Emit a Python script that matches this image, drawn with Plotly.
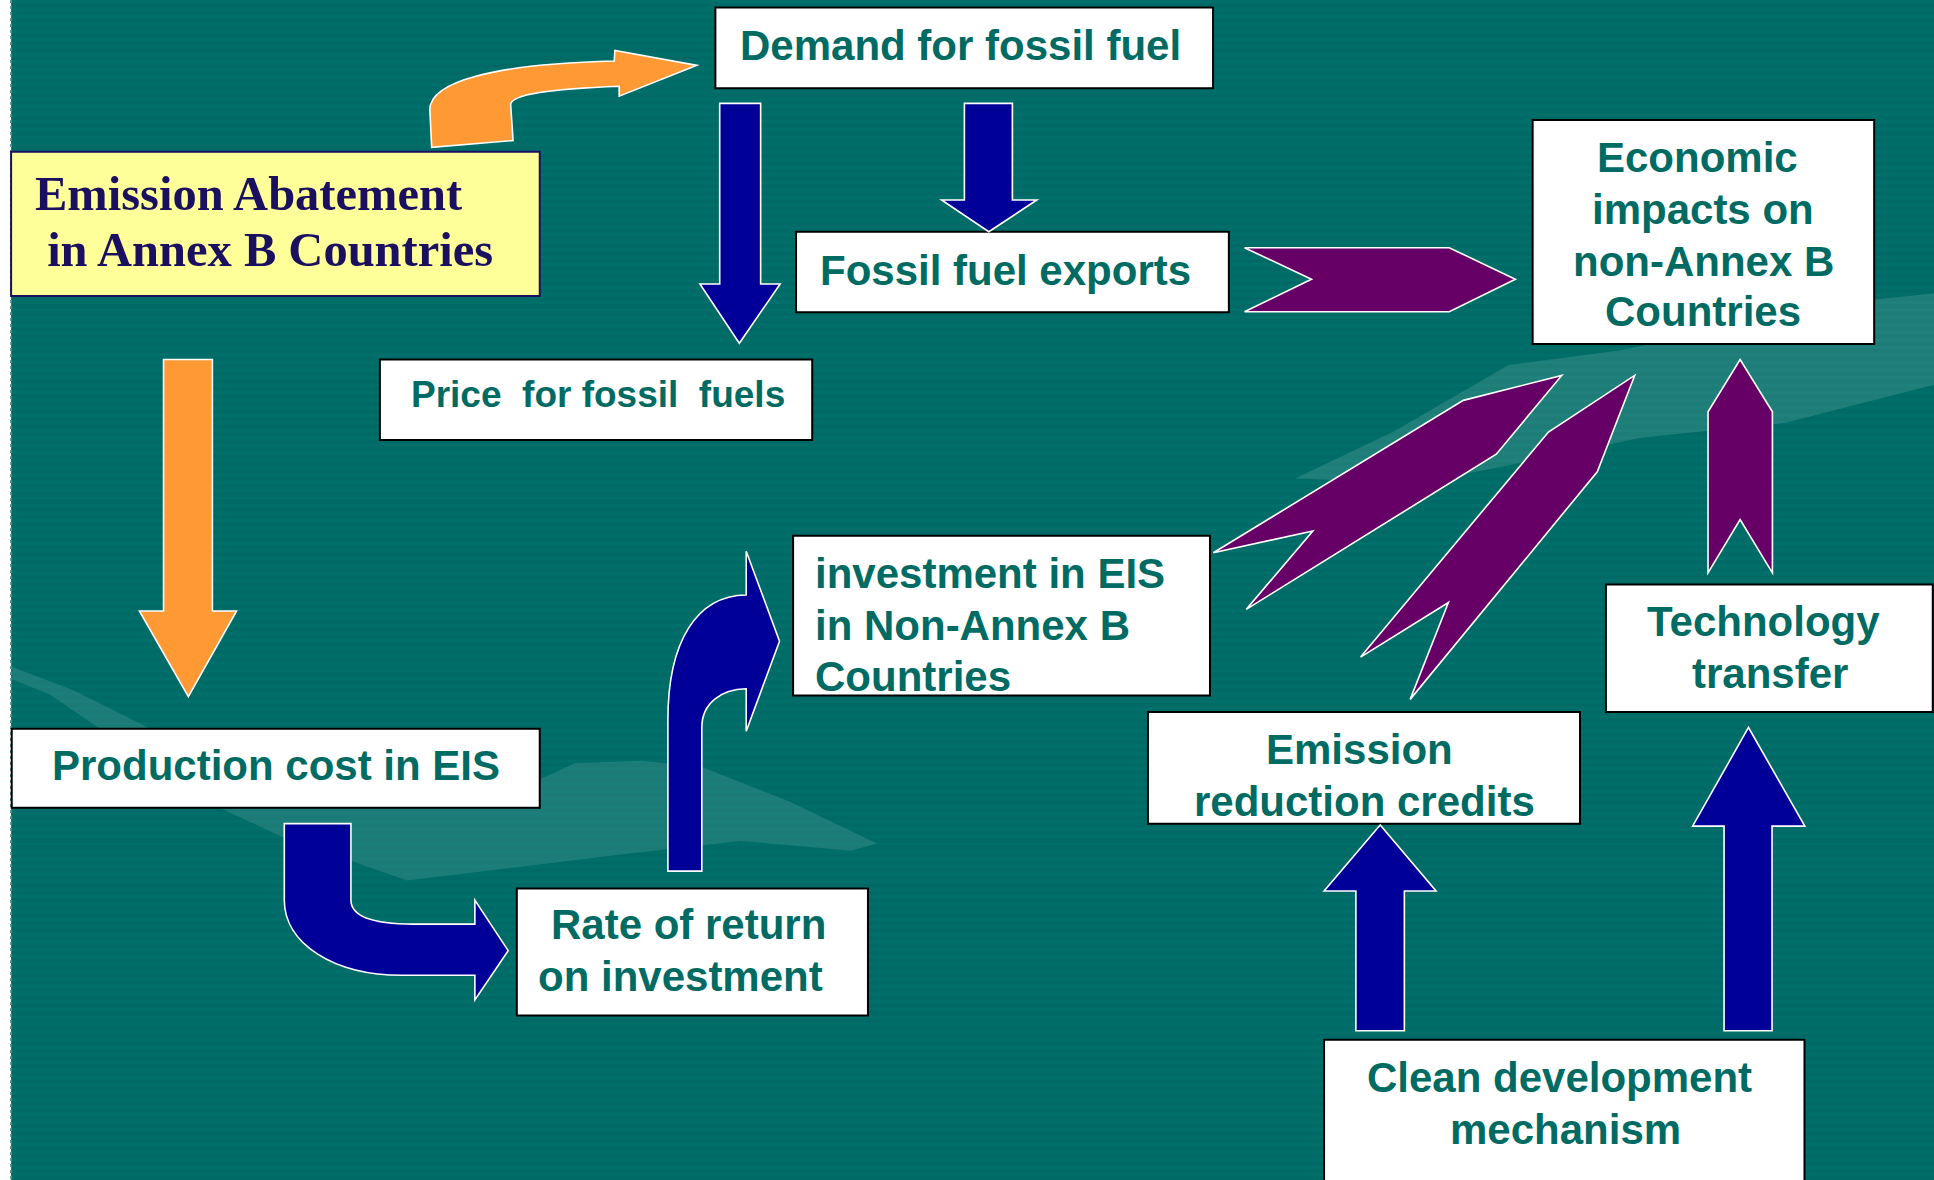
import plotly.graph_objects as go

# ---------------- data: node labels (one list entry per text line) ----------------
demand_lines = ["Demand for fossil fuel"]
abatement_lines = ["Emission Abatement", " in Annex B Countries"]
exports_lines = ["Fossil fuel exports"]
price_lines = ["Price  for fossil  fuels"]
impacts_lines = ["Economic", "impacts on", "non-Annex B", "Countries"]
investment_lines = ["investment in EIS", "in Non-Annex B", "Countries"]
production_lines = ["Production cost in EIS"]
return_lines = ["Rate of return", "on investment"]
credits_lines = ["Emission", "reduction credits"]
technology_lines = ["Technology", "transfer"]
cdm_lines = ["Clean development", "mechanism"]

# ---------------- styles ----------------
W, H = 1934, 1180
XR, YR = 1568, 957          # working coordinate frame
BG = "#006B66"
STRIPE = "#00736E"
TEAL_TEXT = "#006B63"
NAVY_TEXT = "#1B1060"
ORANGE = "#FF9933"
BLUE = "#000099"
PURPLE = "#660066"
SANS = "Liberation Sans, Arial, sans-serif"
SERIF = "Liberation Serif, Times New Roman, serif"

shapes = []
annotations = []


def rect(x0, y0, x1, y1, fill, line="black", lw=2, layer="below"):
    shapes.append(dict(type="rect", xref="x", yref="y", x0=x0, y0=y0, x1=x1, y1=y1,
                       fillcolor=fill, line=dict(color=line, width=lw), layer=layer))


def path(d, fill, line="white", lw=1.6, opacity=1.0, layer="above"):
    shapes.append(dict(type="path", xref="x", yref="y", path=d, fillcolor=fill,
                       line=dict(color=line, width=lw), opacity=opacity, layer=layer))


def poly(pts):
    return "M " + " L ".join(f"{x},{y}" for x, y in pts) + " Z"


def txt(s):
    s = s.replace("  ", " \u00a0")
    if s.startswith(" "):
        s = "\u00a0" + s[1:]
    return s


def label(lines, xs, ys, size=42, color=TEAL_TEXT, family=SANS, anchor="center"):
    if not isinstance(xs, (list, tuple)):
        xs = [xs] * len(lines)
    for s, x, y in zip(lines, xs, ys):
        annotations.append(dict(x=x, y=y, xref="x", yref="y", text=f"<b>{txt(s)}</b>",
                                showarrow=False, xanchor=anchor, yanchor="middle",
                                font=dict(size=size, color=color, family=family)))


# ---------------- background ----------------
rect(9, 0, XR, YR, BG, line=BG, lw=0)
y = 0.0
while y < YR:
    shapes.append(dict(type="rect", xref="x", yref="y", x0=9, x1=XR, y0=y, y1=y + 2.6,
                       fillcolor=STRIPE, line=dict(width=0), layer="below", opacity=0.55))
    y += 6.1
shapes.append(dict(type="line", xref="x", yref="y", x0=9, x1=9, y0=0, y1=YR,
                   line=dict(color="#4a8f8a", width=2, dash="dot"), layer="below"))

# light swooshes in the background
path(poly([(10, 541), (60, 560), (120, 590), (180, 625), (300, 648), (438, 632), (466, 619),
           (520, 617), (569, 622), (640, 650), (711, 684), (690, 690), (600, 682), (512, 692),
           (330, 714), (227, 678), (182, 657), (100, 604), (40, 563), (10, 551)]),
     "white", line="rgba(0,0,0,0)", lw=0, opacity=0.11, layer="below")
path(poly([(1050, 388), (1130, 350), (1223, 296), (1314, 284), (1420, 262), (1519, 243),
           (1568, 238), (1568, 312), (1447, 343), (1330, 355), (1250, 372), (1150, 392)]),
     "white", line="rgba(0,0,0,0)", lw=0, opacity=0.12, layer="below")

# ---------------- boxes ----------------
rect(580, 6, 983.5, 71.6, "white")                       # demand
rect(9, 123, 437.6, 240, "#FFFF99", line=NAVY_TEXT)       # abatement
rect(645.4, 188, 996.3, 253.3, "white")                  # exports
rect(308, 291.6, 658.5, 356.9, "white")                  # price
rect(1242.6, 97.3, 1519.5, 279, "white")                 # impacts
rect(643, 434.5, 981, 564, "white")                      # investment
rect(9.5, 591, 437.6, 655, "white")                      # production
rect(419, 720.5, 703.7, 823.5, "white")                  # return
rect(930.7, 577.5, 1281, 668, "white")                   # credits
rect(1302, 474, 1567, 577.5, "white")                    # technology
rect(1073.5, 843.3, 1463, 960, "white")                  # cdm

# ---------------- arrows ----------------
# orange curved: abatement -> demand
path("M 350,119.5 L 348.5,89 C 348.5,66 400,52 498,49.5 L 498.5,41 L 565,53 L 502,78 "
     "L 502,70 C 450,72 414,76 414,85 L 416,114 Z", ORANGE)
# orange straight down: abatement -> production
path(poly([(132.6, 291.6), (172.2, 291.6), (172.2, 495.5), (191.8, 495.5), (152.7, 565),
           (113, 495.5), (132.6, 495.5)]), ORANGE)
# blue: demand -> price
path(poly([(583.5, 83.8), (616.7, 83.8), (616.7, 230.3), (632.5, 230.3), (599.4, 278.4),
           (567.5, 230.3), (583.5, 230.3)]), BLUE)
# blue: demand -> exports
path(poly([(781.9, 83.8), (820.8, 83.8), (820.8, 162.2), (840.6, 162.2), (801.7, 187.9),
           (763.4, 162.2), (781.9, 162.2)]), BLUE)
# blue curved: production -> return
path("M 230.5,668 L 284.5,668 L 284.5,730 C 284.5,742 300,749.5 335,749.5 L 385,749.5 "
     "L 385,730 L 412,771 L 385,811 L 385,791 L 326,791 C 270,791 230.5,765 230.5,730 Z", BLUE)
# blue curved: return -> investment
path("M 541.5,706.5 L 541.5,584 C 541.5,520 565,483 605,482.6 L 605,447 L 632,520 "
     "L 605,593 L 605,558.6 C 585,559 569,570 569,590 L 569,706.5 Z", BLUE)
# blue: cdm -> credits
path(poly([(1099.3, 836), (1138.6, 836), (1138.6, 722.6), (1164.3, 722.6), (1119, 669),
           (1073.5, 722.6), (1099.3, 722.6)]), BLUE)
# blue: cdm -> technology
path(poly([(1397.8, 836), (1436.7, 836), (1436.7, 670), (1463.3, 670), (1417.6, 590),
           (1372.3, 670), (1397.8, 670)]), BLUE)
# purple chevron: exports -> impacts
path(poly([(1009, 200.9), (1175, 200.9), (1228.6, 226.5), (1175, 252.8), (1009, 252.8),
           (1063.3, 226.5)]), PURPLE)
# purple: technology -> impacts
path(poly([(1384.8, 464.6), (1410.8, 421.3), (1437, 464.6), (1437, 334), (1410.8, 291.6),
           (1384.8, 334)]), PURPLE)
# purple: investment -> impacts
path(poly([(983.7, 448.3), (1064.4, 430.6), (1010.4, 494.2), (1213.1, 368.4), (1266.2, 304.5),
           (1186.4, 324.7)]), PURPLE)
# purple: credits -> impacts
path(poly([(1103.1, 532.9), (1174.3, 488.6), (1143.3, 567.2), (1295, 382.6), (1325.3, 304.5),
           (1255.4, 350.4)]), PURPLE)

# ---------------- labels ----------------
label(demand_lines, 779, [37])
label(abatement_lines, [27, 27], [157, 202], size=48.5, color=NAVY_TEXT, family=SERIF, anchor="left")
label(exports_lines, 815, [219])
label(price_lines, 485, [320], size=37)
label(impacts_lines, [1376, 1381, 1381, 1381], [128, 170, 212, 253])
label(investment_lines, 659, [465, 507, 549], anchor="left")
label(production_lines, 223.5, [621])
label(return_lines, [558, 552], [750, 792])
label(credits_lines, [1102, 1106], [608, 650])
label(technology_lines, [1430, 1435], [504, 546])
label(cdm_lines, [1264, 1269], [874, 916])

fig = go.Figure()
fig.update_layout(
    width=W, height=H, margin=dict(l=0, r=0, t=0, b=0),
    paper_bgcolor="white", plot_bgcolor="white", showlegend=False,
    xaxis=dict(range=[0, XR], visible=False, fixedrange=True),
    yaxis=dict(range=[YR, 0], visible=False, fixedrange=True),
    shapes=shapes, annotations=annotations,
)
fig.write_html("out.html", config={"displayModeBar": False},
               post_script="document.body.style.margin='0';document.body.style.overflow='hidden';")
